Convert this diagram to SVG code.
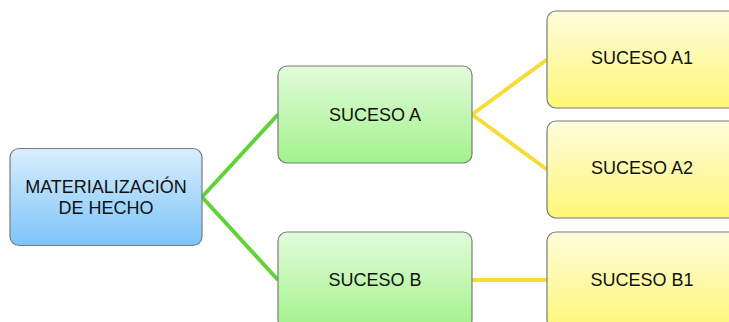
<svg xmlns="http://www.w3.org/2000/svg" width="729" height="322" viewBox="0 0 729 322">
<defs>
<linearGradient id="gBlue" x1="0" y1="0" x2="0" y2="1"><stop offset="0" stop-color="#d9eefd"/><stop offset="1" stop-color="#7cc4fa"/></linearGradient>
<linearGradient id="gGreen" x1="0" y1="0" x2="0" y2="1"><stop offset="0" stop-color="#e2fcdb"/><stop offset="1" stop-color="#a3f28b"/></linearGradient>
<linearGradient id="gYellow" x1="0" y1="0" x2="0" y2="1"><stop offset="0" stop-color="#fffcdc"/><stop offset="1" stop-color="#fdf777"/></linearGradient>
<style>
.box{stroke:#7a7a7a;stroke-width:1.2}
.t{font-family:"Liberation Sans",Arial,sans-serif;font-size:18px;fill:#111;text-anchor:middle}
.cg{stroke:#62d238;stroke-width:4;fill:none}
.cy{stroke:#f7dc35;stroke-width:4;fill:none}
</style>
</defs>
<rect width="729" height="322" fill="#ffffff"/>
<g id="connectors">
<line class="cg" x1="202" y1="197" x2="278" y2="114.5"/>
<line class="cg" x1="202" y1="197" x2="278" y2="280"/>
<line class="cy" x1="472" y1="114.5" x2="547" y2="59.5"/>
<line class="cy" x1="472" y1="114.5" x2="547" y2="169.5"/>
<line class="cy" x1="472" y1="280" x2="547" y2="280"/>
</g>
<g id="root">
<rect class="box" x="10" y="148.5" width="192" height="97" rx="9" fill="url(#gBlue)"/>
<text class="t" x="106" y="193">MATERIALIZACIÓN</text>
<text class="t" x="106" y="213.5">DE HECHO</text>
</g>
<g id="sucesoA">
<rect class="box" x="278" y="66" width="194" height="97" rx="9" fill="url(#gGreen)"/>
<text class="t" x="375" y="121">SUCESO A</text>
</g>
<g id="sucesoB">
<rect class="box" x="278" y="232" width="194" height="97" rx="9" fill="url(#gGreen)"/>
<text class="t" x="375" y="286">SUCESO B</text>
</g>
<g id="sucesoA1">
<rect class="box" x="547" y="11" width="194" height="97" rx="9" fill="url(#gYellow)"/>
<text class="t" x="642" y="64">SUCESO A1</text>
</g>
<g id="sucesoA2">
<rect class="box" x="547" y="121" width="194" height="97" rx="9" fill="url(#gYellow)"/>
<text class="t" x="642" y="174">SUCESO A2</text>
</g>
<g id="sucesoB1">
<rect class="box" x="547" y="232" width="194" height="97" rx="9" fill="url(#gYellow)"/>
<text class="t" x="642" y="286">SUCESO B1</text>
</g>
</svg>
